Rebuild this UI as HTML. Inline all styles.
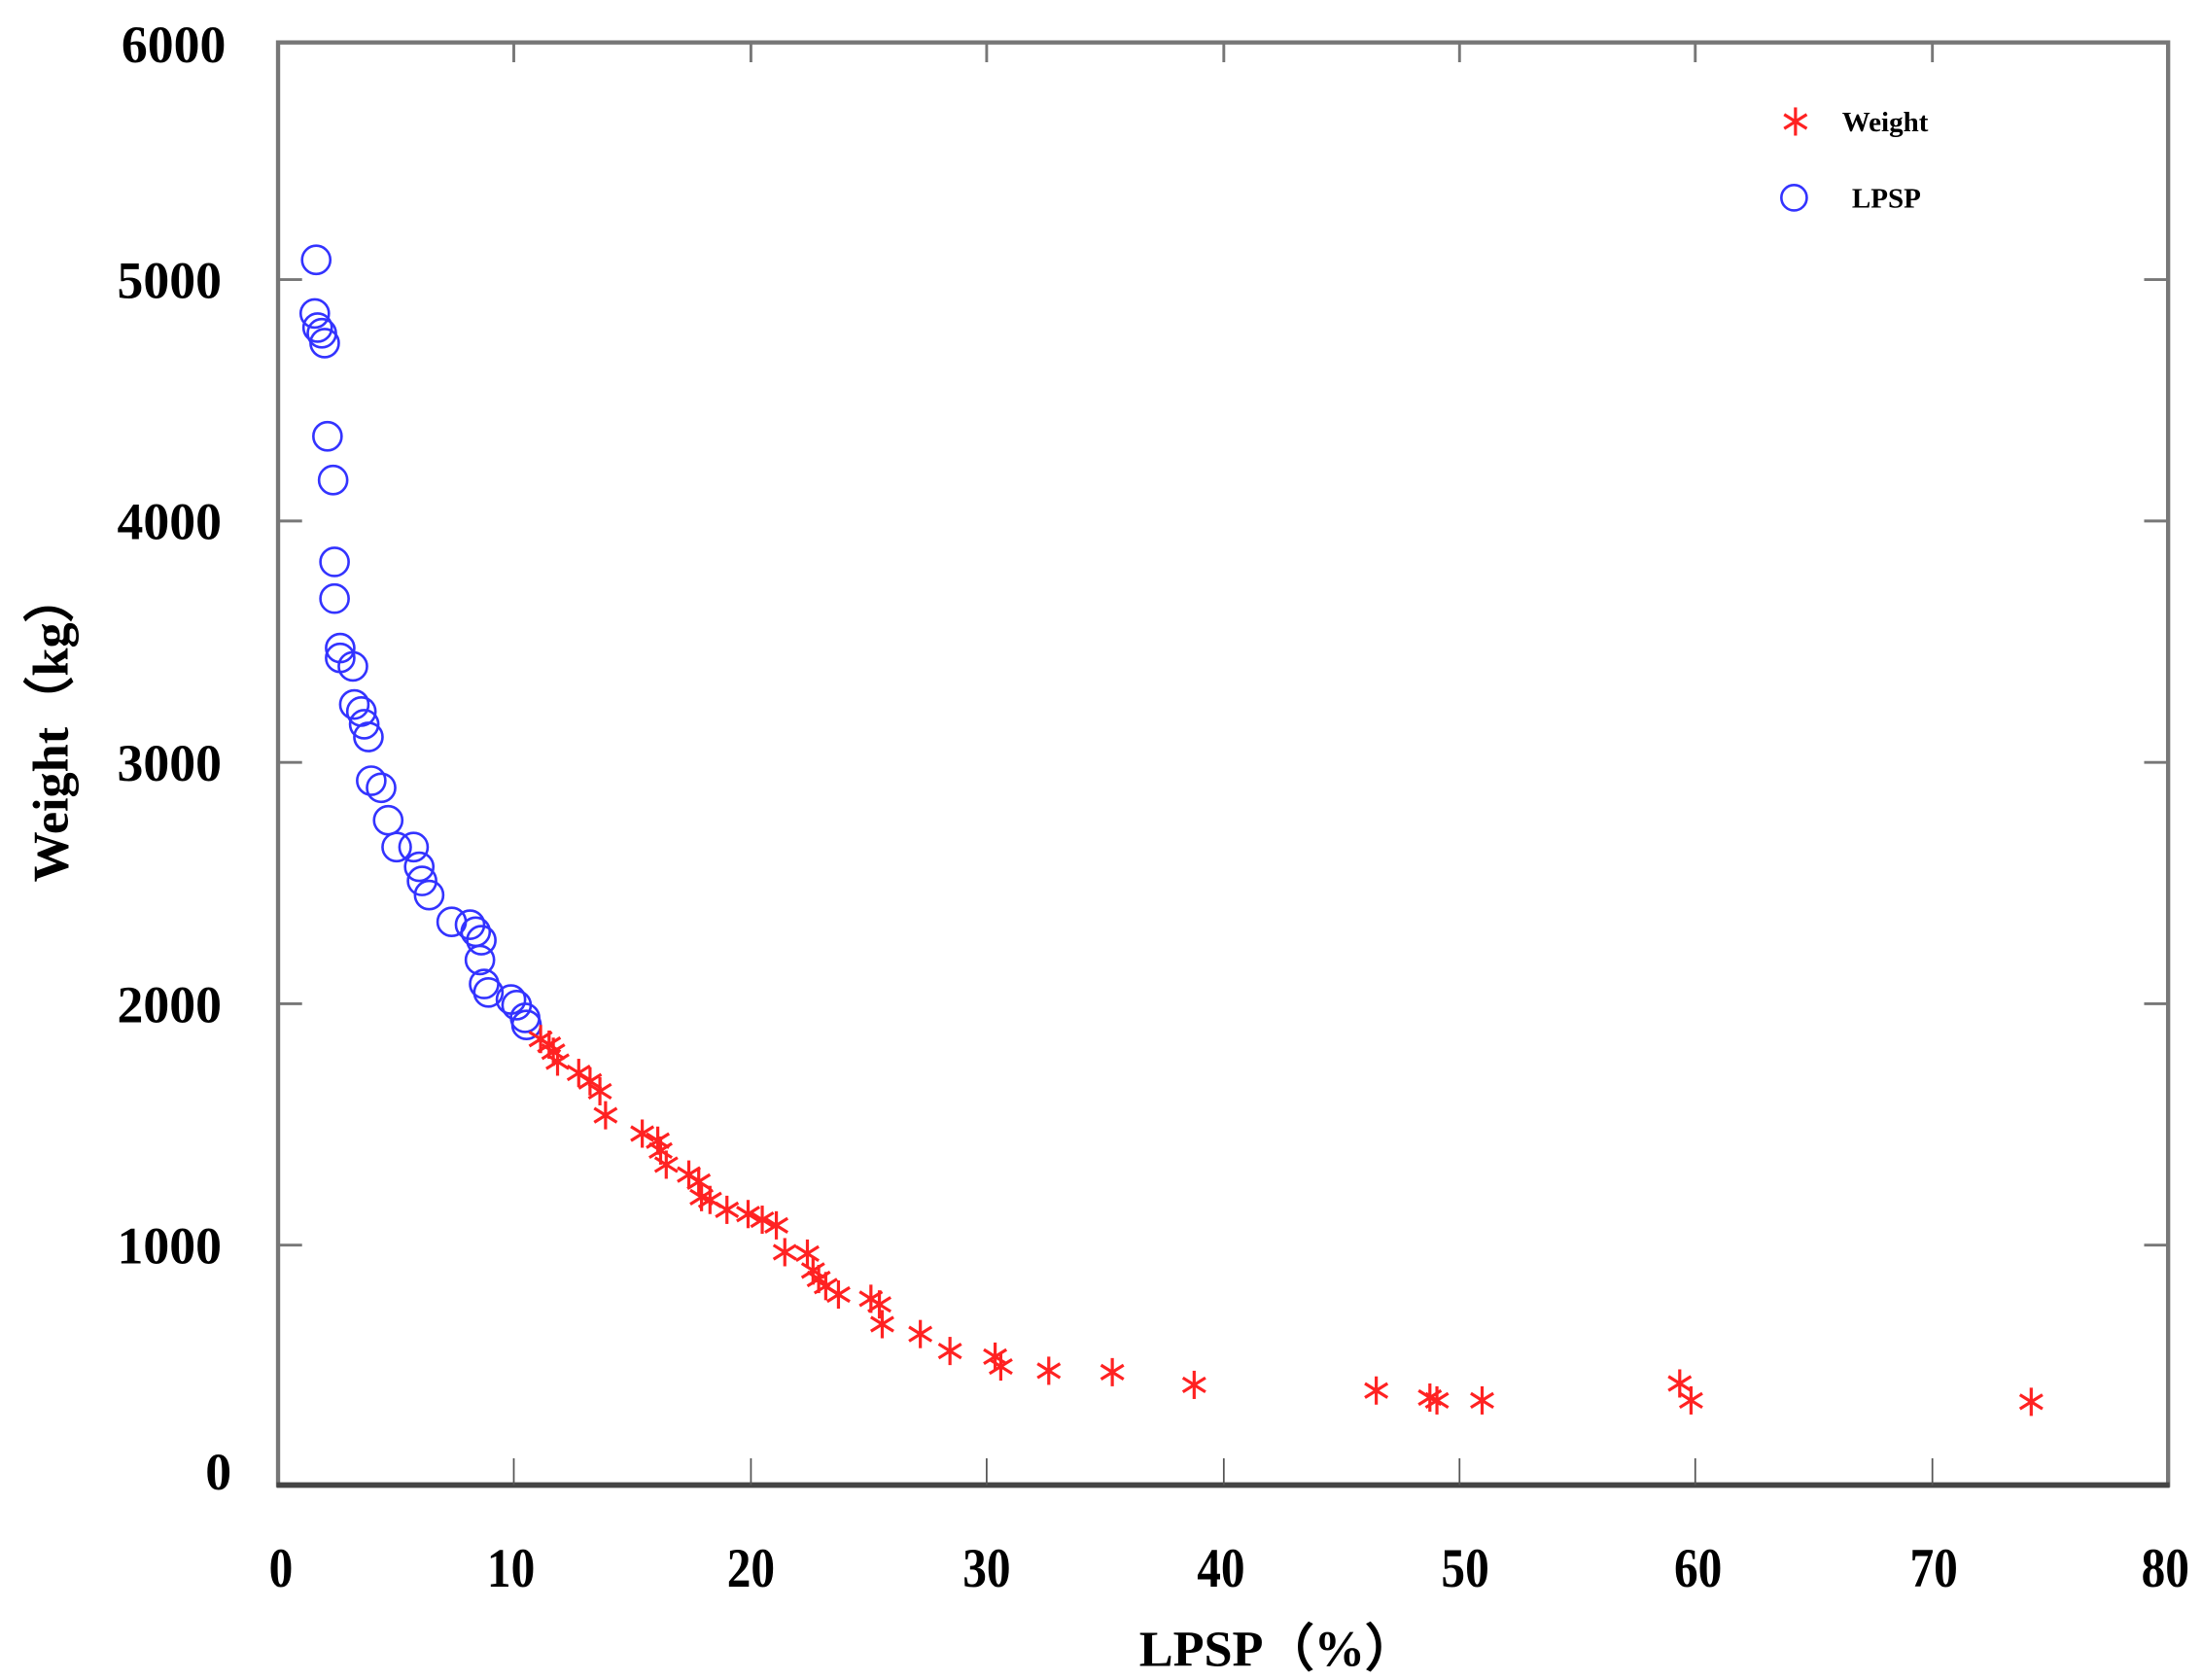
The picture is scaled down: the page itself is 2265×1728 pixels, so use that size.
<!DOCTYPE html>
<html><head><style>body{margin:0;background:#fff}svg{display:block}</style></head><body>
<svg width="2265" height="1728" viewBox="0 0 1560 1190" xmlns="http://www.w3.org/2000/svg">
<rect width="1560" height="1190" fill="#fff"/>
<g stroke="#777" stroke-width="3" fill="none">
<rect x="197" y="30" width="1339" height="1022"/>
</g>
<line x1="196" y1="1052" x2="1537" y2="1052" stroke="#444" stroke-width="4"/>
<g stroke="#777" stroke-width="2">
<line x1="197" y1="198" x2="214" y2="198"/><line x1="197" y1="369" x2="214" y2="369"/>
<line x1="197" y1="540" x2="214" y2="540"/><line x1="197" y1="711" x2="214" y2="711"/>
<line x1="197" y1="882" x2="214" y2="882"/>
<line x1="1519" y1="198" x2="1536" y2="198"/><line x1="1519" y1="369" x2="1536" y2="369"/>
<line x1="1519" y1="540" x2="1536" y2="540"/><line x1="1519" y1="711" x2="1536" y2="711"/>
<line x1="1519" y1="882" x2="1536" y2="882"/>
<line x1="364" y1="30" x2="364" y2="44"/><line x1="532" y1="30" x2="532" y2="44"/><line x1="699" y1="30" x2="699" y2="44"/><line x1="867" y1="30" x2="867" y2="44"/><line x1="1034" y1="30" x2="1034" y2="44"/><line x1="1201" y1="30" x2="1201" y2="44"/><line x1="1369" y1="30" x2="1369" y2="44"/>
</g>
<g stroke="#555" stroke-width="1.2">
<line x1="364" y1="1052" x2="364" y2="1033"/><line x1="532" y1="1052" x2="532" y2="1033"/><line x1="699" y1="1052" x2="699" y2="1033"/><line x1="867" y1="1052" x2="867" y2="1033"/><line x1="1034" y1="1052" x2="1034" y2="1033"/><line x1="1201" y1="1052" x2="1201" y2="1033"/><line x1="1369" y1="1052" x2="1369" y2="1033"/>
</g>
<g font-family="Liberation Serif, serif" font-weight="bold" font-size="37" fill="#000" text-anchor="end">
<text x="160" y="44">6000</text><text x="157" y="211">5000</text><text x="157" y="382">4000</text>
<text x="157" y="553">3000</text><text x="157" y="724">2000</text><text x="157" y="895">1000</text>
<text x="164" y="1055">0</text>
</g>
<g font-family="Liberation Serif, serif" font-weight="bold" font-size="34" fill="#000" text-anchor="middle">
<g transform="translate(0,1124) scale(1,1.15)">
<text x="199" y="0">0</text><text x="362" y="0">10</text><text x="532" y="0">20</text><text x="699" y="0">30</text><text x="865" y="0">40</text><text x="1038" y="0">50</text><text x="1203" y="0">60</text><text x="1370" y="0">70</text><text x="1534" y="0">80</text>
</g>
<text x="905" y="1180" font-size="36">LPSP（%）</text>
<text transform="translate(48,515) rotate(-90)" font-size="36">Weight（kg）</text>
</g>
<g font-family="Liberation Serif, serif" font-weight="bold" font-size="20" fill="#000">
<text x="1305" y="93">Weight</text><text x="1312" y="147">LPSP</text>
</g>
<g fill="none" stroke="#33f" stroke-width="1.8">
<circle cx="1271" cy="140" r="9"/>
<circle cx="224" cy="184" r="10"/><circle cx="223" cy="222" r="10"/><circle cx="225" cy="232" r="10"/><circle cx="228" cy="236" r="10"/><circle cx="230" cy="243" r="10"/><circle cx="232" cy="309" r="10"/><circle cx="236" cy="340" r="10"/><circle cx="237" cy="398" r="10"/><circle cx="237" cy="424" r="10"/><circle cx="241" cy="459" r="10"/><circle cx="241" cy="466" r="10"/><circle cx="250" cy="472" r="10"/><circle cx="251" cy="499" r="10"/><circle cx="256" cy="504" r="10"/><circle cx="258" cy="513" r="10"/><circle cx="261" cy="522" r="10"/><circle cx="263" cy="553" r="10"/><circle cx="270" cy="558" r="10"/><circle cx="275" cy="581" r="10"/><circle cx="281" cy="600" r="10"/><circle cx="293" cy="600" r="10"/><circle cx="297" cy="614" r="10"/><circle cx="299" cy="624" r="10"/><circle cx="304" cy="634" r="10"/><circle cx="320" cy="653" r="10"/><circle cx="333" cy="655" r="10"/><circle cx="337" cy="660" r="10"/><circle cx="341" cy="666" r="10"/><circle cx="340" cy="680" r="10"/><circle cx="343" cy="697" r="10"/><circle cx="346" cy="703" r="10"/><circle cx="362" cy="708" r="10"/><circle cx="366" cy="712" r="10"/><circle cx="372" cy="721" r="10"/><circle cx="373" cy="726" r="10"/>
</g>
<defs><g id="s" stroke="#f22" stroke-width="2.2"><line x1="0" y1="-10" x2="0" y2="10"/><line x1="-8" y1="-5" x2="8" y2="5"/><line x1="-8" y1="5" x2="8" y2="-5"/></g></defs>
<g>
<use href="#s" x="1272" y="86"/>
<use href="#s" x="383" y="736"/><use href="#s" x="389" y="740"/><use href="#s" x="392" y="745"/><use href="#s" x="395" y="752"/><use href="#s" x="410" y="760"/><use href="#s" x="418" y="766"/><use href="#s" x="425" y="773"/><use href="#s" x="429" y="790"/><use href="#s" x="455" y="803"/><use href="#s" x="466" y="808"/><use href="#s" x="468" y="815"/><use href="#s" x="472" y="825"/><use href="#s" x="488" y="832"/><use href="#s" x="495" y="837"/><use href="#s" x="497" y="848"/><use href="#s" x="503" y="850"/><use href="#s" x="515" y="857"/><use href="#s" x="530" y="860"/><use href="#s" x="540" y="864"/><use href="#s" x="550" y="868"/><use href="#s" x="556" y="887"/><use href="#s" x="572" y="888"/><use href="#s" x="576" y="900"/><use href="#s" x="580" y="906"/><use href="#s" x="585" y="911"/><use href="#s" x="594" y="917"/><use href="#s" x="617" y="920"/><use href="#s" x="623" y="924"/><use href="#s" x="625" y="938"/><use href="#s" x="652" y="945"/><use href="#s" x="673" y="957"/><use href="#s" x="705" y="961"/><use href="#s" x="709" y="968"/><use href="#s" x="743" y="971"/><use href="#s" x="788" y="972"/><use href="#s" x="846" y="981"/><use href="#s" x="975" y="985"/><use href="#s" x="1013" y="990"/><use href="#s" x="1018" y="992"/><use href="#s" x="1050" y="992"/><use href="#s" x="1190" y="980"/><use href="#s" x="1198" y="992"/><use href="#s" x="1439" y="993"/>
</g>
</svg>
</body></html>
